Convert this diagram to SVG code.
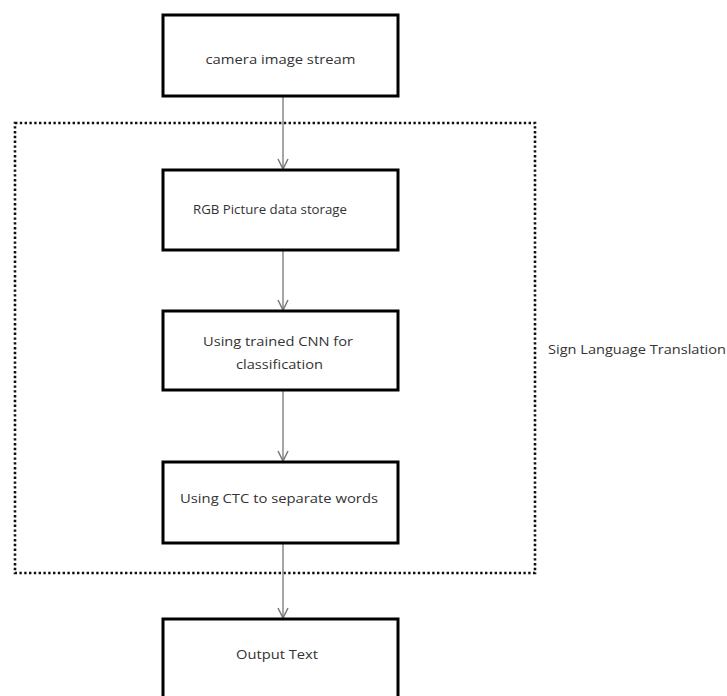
<svg xmlns="http://www.w3.org/2000/svg" width="727" height="696" viewBox="0 0 727 696">
<style>
.box{fill:#fff;stroke:#000;stroke-width:3}
.t{font-family:"Open Sans","Liberation Sans",sans-serif;font-size:12.5px;fill:#333;text-anchor:middle}
.c{stroke:#888;stroke-width:1.5;fill:none}
.frame{fill:none;stroke:#111;stroke-width:2.6;stroke-dasharray:2.4 2.4}
</style>
<defs>
<marker id="ah" viewBox="0 0 12 12" refX="11" refY="6" markerWidth="12" markerHeight="12" markerUnits="userSpaceOnUse" orient="auto">
<path d="M1,1 L11,6 L1,11" fill="none" stroke="#777" stroke-width="1.5"/>
</marker>
</defs>
<rect width="727" height="696" fill="#fff"/>
<g id="group-frame">
<rect class="frame" x="15" y="123" width="520" height="450"/>
<text class="t" x="637" y="354" textLength="178" lengthAdjust="spacingAndGlyphs">Sign Language Translation</text>
</g>
<g id="connectors">
<line class="c" x1="283" y1="96" x2="283" y2="169" marker-end="url(#ah)"/>
<line class="c" x1="283" y1="251" x2="283" y2="310" marker-end="url(#ah)"/>
<line class="c" x1="283" y1="391" x2="283" y2="461" marker-end="url(#ah)"/>
<line class="c" x1="283" y1="544" x2="283" y2="618" marker-end="url(#ah)"/>
</g>
<g id="n1">
<rect class="box" x="163" y="15" width="235" height="81"/>
<text class="t" x="280.5" y="64" textLength="150" lengthAdjust="spacingAndGlyphs">camera image stream</text>
</g>
<g id="n2">
<rect class="box" x="163" y="170" width="235" height="80"/>
<text class="t" x="270" y="214" textLength="154" lengthAdjust="spacingAndGlyphs">RGB Picture data storage</text>
</g>
<g id="n3">
<rect class="box" x="163" y="311" width="235" height="79"/>
<text class="t" x="278" y="346" textLength="150" lengthAdjust="spacingAndGlyphs">Using trained CNN for</text>
<text class="t" x="279.5" y="369" textLength="87" lengthAdjust="spacingAndGlyphs">classification</text>
</g>
<g id="n4">
<rect class="box" x="163" y="462" width="235" height="81"/>
<text class="t" x="279" y="503" textLength="198" lengthAdjust="spacingAndGlyphs">Using CTC to separate words</text>
</g>
<g id="n5">
<rect class="box" x="163" y="619" width="235" height="90"/>
<text class="t" x="277" y="659" textLength="82" lengthAdjust="spacingAndGlyphs">Output Text</text>
</g>
</svg>
